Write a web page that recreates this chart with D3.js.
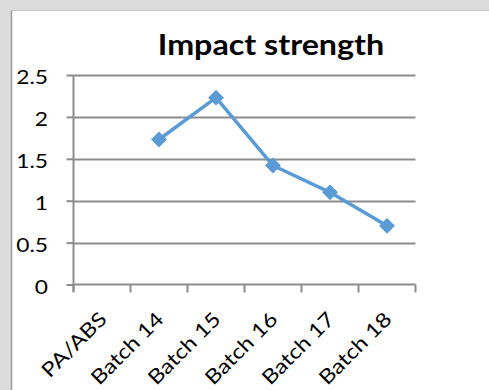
<!DOCTYPE html>
<html>
<head>
<meta charset="utf-8">
<script src="https://cdn.jsdelivr.net/npm/d3@7"></script>
<style>
  html, body { margin: 0; padding: 0; background: #dcdcdc; }
  svg { display: block; }
</style>
</head>
<body>
<svg id="chart" width="489" height="390"></svg>
<script>
// Chart data
const categories = ["PA/ABS", "Batch 14", "Batch 15", "Batch 16", "Batch 17", "Batch 18"];
const impactValues = [null, 1.73, 2.23, 1.42, 1.1, 0.7];
const yTicks = [0, 0.5, 1, 1.5, 2, 2.5];
const chartTitle = "Impact strength";

const svg = d3.select("#chart");
const W = 489, H = 390;
const font = "Lato, 'Open Sans', sans-serif";
const stretch = 1.2; // wide glyph proportions for labels

// page background and white chart panel
svg.append("rect").attr("width", W).attr("height", H).attr("fill", "#dcdcdc");
svg.append("rect").attr("x", 12).attr("y", 11).attr("width", W - 12).attr("height", H - 11).attr("fill", "#ffffff");
svg.append("line").attr("x1", 11.5).attr("x2", 11.5).attr("y1", 10).attr("y2", H)
  .attr("stroke", "#9a9a9a").attr("stroke-width", 1.5);
svg.append("line").attr("x1", 11).attr("x2", W).attr("y1", 10.5).attr("y2", 10.5)
  .attr("stroke", "#c4c4c4").attr("stroke-width", 1);

// plot area
const plot = { left: 73.5, right: 415.5, top: 75, bottom: 284.5 };

const x = d3.scaleBand().domain(categories).range([plot.left, plot.right]);
const y = d3.scaleLinear().domain([0, 2.5]).range([plot.bottom, plot.top]);

// horizontal gridlines
svg.append("g").selectAll("line").data(yTicks.filter(d => d > 0)).join("line")
  .attr("x1", plot.left).attr("x2", plot.right)
  .attr("y1", d => Math.round(y(d)) + 0.5).attr("y2", d => Math.round(y(d)) + 0.5)
  .attr("stroke", "#8c8c8c").attr("stroke-width", 2);

// y axis (labels placed separately so they can be widened)
const yAxis = d3.axisLeft(y).tickValues(yTicks).tickSize(7).tickFormat("");
const gy = svg.append("g").attr("transform", `translate(${plot.left},0)`).call(yAxis);
gy.select(".domain").attr("stroke", "#8c8c8c").attr("stroke-width", 2)
  .attr("d", `M0,${plot.top}V${plot.bottom + 7}`);
gy.selectAll(".tick line").attr("stroke", "#8c8c8c").attr("stroke-width", 2);
svg.append("g").selectAll("text").data(yTicks).join("text")
  .attr("transform", d => `translate(48,${y(d) + 9}) scale(${stretch},1)`)
  .attr("text-anchor", "end")
  .attr("font-family", font).attr("font-size", 19).attr("fill", "#000")
  .text(d => String(d));

// x axis with ticks at band edges
const gx = svg.append("g").attr("transform", `translate(0,${plot.bottom})`);
gx.append("line").attr("x1", plot.left).attr("x2", plot.right).attr("y1", 0).attr("y2", 0)
  .attr("stroke", "#8c8c8c").attr("stroke-width", 2);
const edges = categories.map(c => x(c)).concat([plot.right]);
gx.selectAll("line.tk").data(edges).join("line").attr("class", "tk")
  .attr("x1", d => d).attr("x2", d => d).attr("y1", 0).attr("y2", 8)
  .attr("stroke", "#8c8c8c").attr("stroke-width", 2);
gx.selectAll("text").data(categories).join("text")
  .attr("transform", d => `translate(${x(d) + x.bandwidth() / 2 + 1},${31}) rotate(-45) scale(1.18,1)`)
  .attr("text-anchor", "end")
  .attr("dy", "0.35em")
  .attr("font-family", font).attr("font-size", 20).attr("fill", "#000")
  .text(d => d);

// title
svg.append("text")
  .attr("transform", `translate(271,55) scale(1.15,1)`)
  .attr("text-anchor", "middle")
  .attr("font-family", font).attr("font-weight", "bold").attr("font-size", 28)
  .attr("fill", "#000").text(chartTitle);

// series line and markers
const pts = categories.map((c, i) => ({ c, v: impactValues[i] })).filter(d => d.v != null);
const line = d3.line().x(d => x(d.c) + x.bandwidth() / 2).y(d => y(d.v));
svg.append("path").datum(pts).attr("d", line)
  .attr("fill", "none").attr("stroke", "#5b9bd5").attr("stroke-width", 3.5)
  .attr("stroke-linejoin", "round");
svg.append("g").selectAll("path").data(pts).join("path")
  .attr("transform", d => `translate(${x(d.c) + x.bandwidth() / 2},${y(d.v)})`)
  .attr("d", d3.symbol(d3.symbolDiamond2, 160)())
  .attr("fill", "#5b9bd5");
</script>
</body>
</html>
